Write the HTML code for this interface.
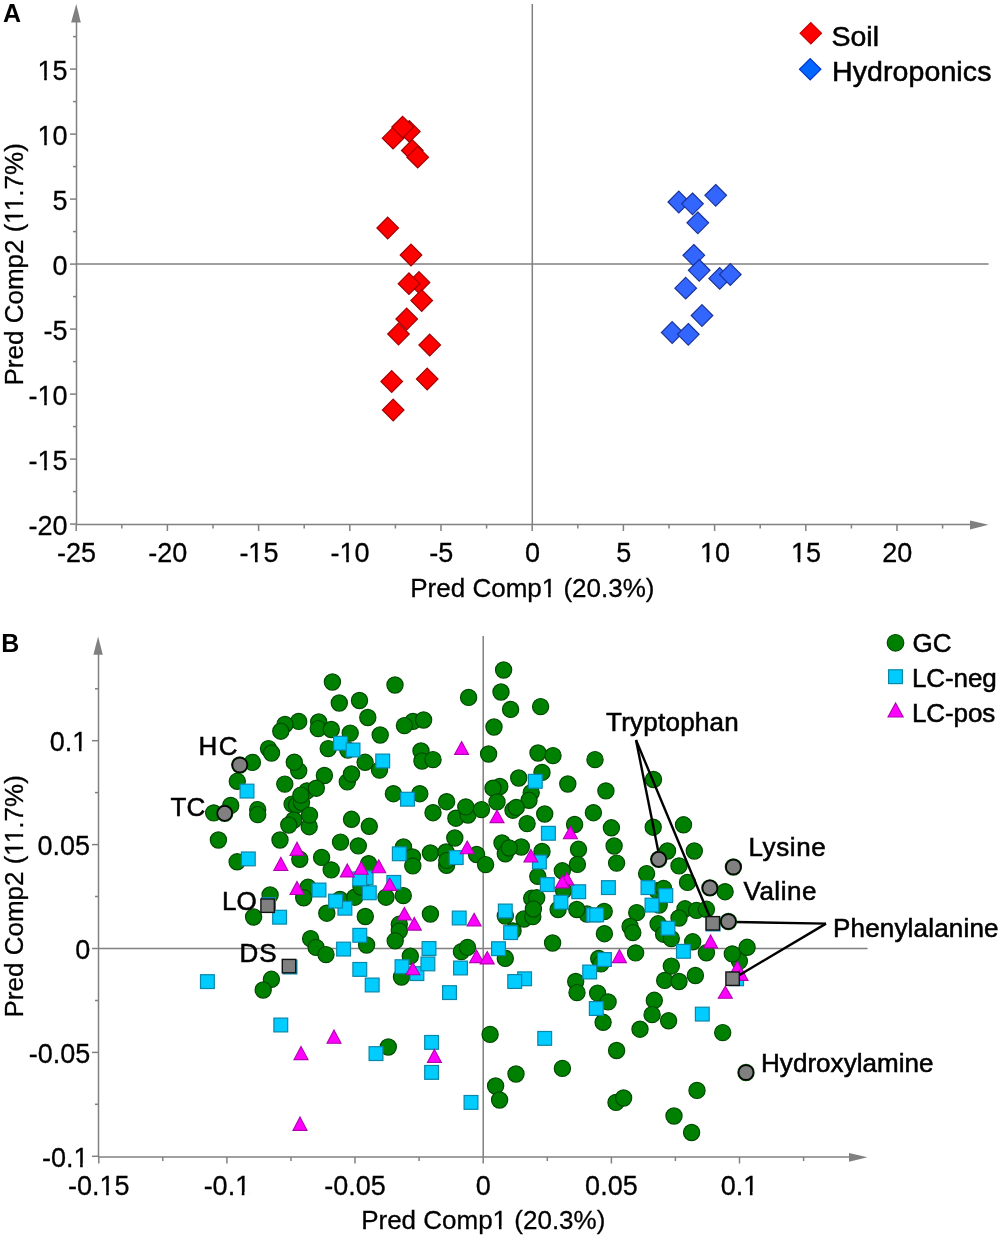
<!DOCTYPE html><html><head><meta charset="utf-8"><style>html,body{margin:0;padding:0;background:#fff;width:1000px;height:1238px;overflow:hidden}svg{display:block;will-change:transform}text{font-family:"Liberation Sans", sans-serif}</style></head><body>
<svg width="1000" height="1238" viewBox="0 0 1000 1238">
<rect width="1000" height="1238" fill="#fff"/>
<g stroke="#808080" stroke-width="1.5" fill="none">
<line x1="76.5" y1="22" x2="76.5" y2="524.5"/>
<line x1="76.5" y1="524.5" x2="971" y2="524.5"/>
<line x1="76.5" y1="264.1" x2="988.5" y2="264.1"/>
<line x1="532.3" y1="4" x2="532.3" y2="524.5"/>
<line x1="70" y1="524.1" x2="76.5" y2="524.1"/>
<line x1="70" y1="459.1" x2="76.5" y2="459.1"/>
<line x1="70" y1="394.1" x2="76.5" y2="394.1"/>
<line x1="70" y1="329.1" x2="76.5" y2="329.1"/>
<line x1="70" y1="264.1" x2="76.5" y2="264.1"/>
<line x1="70" y1="199.1" x2="76.5" y2="199.1"/>
<line x1="70" y1="134.1" x2="76.5" y2="134.1"/>
<line x1="70" y1="69.1" x2="76.5" y2="69.1"/>
<line x1="73" y1="491.6" x2="76.5" y2="491.6"/>
<line x1="73" y1="426.6" x2="76.5" y2="426.6"/>
<line x1="73" y1="361.6" x2="76.5" y2="361.6"/>
<line x1="73" y1="296.6" x2="76.5" y2="296.6"/>
<line x1="73" y1="231.6" x2="76.5" y2="231.6"/>
<line x1="73" y1="166.6" x2="76.5" y2="166.6"/>
<line x1="73" y1="101.6" x2="76.5" y2="101.6"/>
<line x1="73" y1="36.6" x2="76.5" y2="36.6"/>
<line x1="76.2" y1="524.5" x2="76.2" y2="531"/>
<line x1="167.4" y1="524.5" x2="167.4" y2="531"/>
<line x1="258.6" y1="524.5" x2="258.6" y2="531"/>
<line x1="349.8" y1="524.5" x2="349.8" y2="531"/>
<line x1="441" y1="524.5" x2="441" y2="531"/>
<line x1="532.2" y1="524.5" x2="532.2" y2="531"/>
<line x1="623.4" y1="524.5" x2="623.4" y2="531"/>
<line x1="714.6" y1="524.5" x2="714.6" y2="531"/>
<line x1="805.8" y1="524.5" x2="805.8" y2="531"/>
<line x1="897" y1="524.5" x2="897" y2="531"/>
<line x1="121.8" y1="524.5" x2="121.8" y2="528.5"/>
<line x1="213" y1="524.5" x2="213" y2="528.5"/>
<line x1="304.2" y1="524.5" x2="304.2" y2="528.5"/>
<line x1="395.4" y1="524.5" x2="395.4" y2="528.5"/>
<line x1="486.6" y1="524.5" x2="486.6" y2="528.5"/>
<line x1="577.8" y1="524.5" x2="577.8" y2="528.5"/>
<line x1="669" y1="524.5" x2="669" y2="528.5"/>
<line x1="760.2" y1="524.5" x2="760.2" y2="528.5"/>
<line x1="851.4" y1="524.5" x2="851.4" y2="528.5"/>
<line x1="942.6" y1="524.5" x2="942.6" y2="528.5"/>
</g>
<g fill="#808080" stroke="none">
<polygon points="76.3,4 71.1,22.4 80.8,22.4"/>
<polygon points="988.5,524.8 970,520.6 970,529.4"/>
</g>
<g font-size="27" fill="#000" stroke="#000" stroke-width="0.3" text-anchor="end">
<text x="67.6" y="534.6">-20</text>
<text x="67.6" y="469.6">-15</text>
<text x="67.6" y="404.6">-10</text>
<text x="67.6" y="339.6">-5</text>
<text x="67.6" y="274.6">0</text>
<text x="67.6" y="209.6">5</text>
<text x="67.6" y="144.6">10</text>
<text x="67.6" y="79.6">15</text>
</g>
<g font-size="27" fill="#000" stroke="#000" stroke-width="0.3" text-anchor="middle">
<text x="76.5" y="562">-25</text>
<text x="167.7" y="562">-20</text>
<text x="258.9" y="562">-15</text>
<text x="350.1" y="562">-10</text>
<text x="441.3" y="562">-5</text>
<text x="532.5" y="562">0</text>
<text x="623.7" y="562">5</text>
<text x="714.9" y="562">10</text>
<text x="806.1" y="562">15</text>
<text x="897.3" y="562">20</text>
</g>
<text x="532.4" y="596.5" font-size="26" stroke="#000" stroke-width="0.3" text-anchor="middle">Pred Comp1 (20.3%)</text>
<text transform="translate(22.6,264.35) rotate(-90)" font-size="26" stroke="#000" stroke-width="0.3" text-anchor="middle">Pred Comp2 (11.7%)</text>
<text x="3" y="21.9" font-size="25" font-weight="bold">A</text>
<polygon points="393.1,127.4 403.9,138.2 393.1,149 382.3,138.2" fill="#ff0000" stroke="#a00000" stroke-width="1.2"/>
<polygon points="409.3,120.6 420.1,131.4 409.3,142.2 398.5,131.4" fill="#ff0000" stroke="#a00000" stroke-width="1.2"/>
<polygon points="402.6,116.3 413.4,127.1 402.6,137.9 391.8,127.1" fill="#ff0000" stroke="#a00000" stroke-width="1.2"/>
<polygon points="412.3,139.7 423.1,150.5 412.3,161.3 401.5,150.5" fill="#ff0000" stroke="#a00000" stroke-width="1.2"/>
<polygon points="417.7,146.4 428.5,157.2 417.7,168 406.9,157.2" fill="#ff0000" stroke="#a00000" stroke-width="1.2"/>
<polygon points="387.7,217.2 398.5,228 387.7,238.8 376.9,228" fill="#ff0000" stroke="#a00000" stroke-width="1.2"/>
<polygon points="411,244.2 421.8,255 411,265.8 400.2,255" fill="#ff0000" stroke="#a00000" stroke-width="1.2"/>
<polygon points="419,271.7 429.8,282.5 419,293.3 408.2,282.5" fill="#ff0000" stroke="#a00000" stroke-width="1.2"/>
<polygon points="409,272.9 419.8,283.7 409,294.5 398.2,283.7" fill="#ff0000" stroke="#a00000" stroke-width="1.2"/>
<polygon points="421.7,289.7 432.5,300.5 421.7,311.3 410.9,300.5" fill="#ff0000" stroke="#a00000" stroke-width="1.2"/>
<polygon points="406.7,308.2 417.5,319 406.7,329.8 395.9,319" fill="#ff0000" stroke="#a00000" stroke-width="1.2"/>
<polygon points="398.5,323.2 409.3,334 398.5,344.8 387.7,334" fill="#ff0000" stroke="#a00000" stroke-width="1.2"/>
<polygon points="429.7,334.2 440.5,345 429.7,355.8 418.9,345" fill="#ff0000" stroke="#a00000" stroke-width="1.2"/>
<polygon points="391.7,370.7 402.5,381.5 391.7,392.3 380.9,381.5" fill="#ff0000" stroke="#a00000" stroke-width="1.2"/>
<polygon points="427.2,368.2 438,379 427.2,389.8 416.4,379" fill="#ff0000" stroke="#a00000" stroke-width="1.2"/>
<polygon points="393.2,399.2 404,410 393.2,420.8 382.4,410" fill="#ff0000" stroke="#a00000" stroke-width="1.2"/>
<polygon points="678.8,191.2 689.6,202 678.8,212.8 668,202" fill="#3366ff" stroke="#1a3399" stroke-width="1.2"/>
<polygon points="692.5,193 703.3,203.8 692.5,214.6 681.7,203.8" fill="#3366ff" stroke="#1a3399" stroke-width="1.2"/>
<polygon points="715.7,184.5 726.5,195.3 715.7,206.1 704.9,195.3" fill="#3366ff" stroke="#1a3399" stroke-width="1.2"/>
<polygon points="697.8,212 708.6,222.8 697.8,233.6 687,222.8" fill="#3366ff" stroke="#1a3399" stroke-width="1.2"/>
<polygon points="693.8,244.5 704.6,255.3 693.8,266.1 683,255.3" fill="#3366ff" stroke="#1a3399" stroke-width="1.2"/>
<polygon points="699.2,259.5 710,270.3 699.2,281.1 688.4,270.3" fill="#3366ff" stroke="#1a3399" stroke-width="1.2"/>
<polygon points="719.7,267.6 730.5,278.4 719.7,289.2 708.9,278.4" fill="#3366ff" stroke="#1a3399" stroke-width="1.2"/>
<polygon points="730.3,263.7 741.1,274.5 730.3,285.3 719.5,274.5" fill="#3366ff" stroke="#1a3399" stroke-width="1.2"/>
<polygon points="685.7,277.4 696.5,288.2 685.7,299 674.9,288.2" fill="#3366ff" stroke="#1a3399" stroke-width="1.2"/>
<polygon points="702,304.7 712.8,315.5 702,326.3 691.2,315.5" fill="#3366ff" stroke="#1a3399" stroke-width="1.2"/>
<polygon points="672.2,321.7 683,332.5 672.2,343.3 661.4,332.5" fill="#3366ff" stroke="#1a3399" stroke-width="1.2"/>
<polygon points="688.3,323.5 699.1,334.3 688.3,345.1 677.5,334.3" fill="#3366ff" stroke="#1a3399" stroke-width="1.2"/>
<polygon points="810.8,22.6 821.5,33.3 810.8,44 800.1,33.3" fill="#ff0000" stroke="#c80000" stroke-width="1.2"/>
<polygon points="810.2,58.6 820.9,69.3 810.2,80 799.5,69.3" fill="#0066ff" stroke="#0033cc" stroke-width="1.2"/>
<g stroke="#808080" stroke-width="1.5" fill="none">
<line x1="98.5" y1="654" x2="98.5" y2="1157"/>
<line x1="98.5" y1="1157" x2="850" y2="1157"/>
<line x1="98.5" y1="948.5" x2="867.5" y2="948.5"/>
<line x1="483.2" y1="636" x2="483.2" y2="1157"/>
<line x1="92" y1="1156.3" x2="98.5" y2="1156.3"/>
<line x1="92" y1="1052.4" x2="98.5" y2="1052.4"/>
<line x1="92" y1="948.5" x2="98.5" y2="948.5"/>
<line x1="92" y1="844.6" x2="98.5" y2="844.6"/>
<line x1="92" y1="740.7" x2="98.5" y2="740.7"/>
<line x1="95" y1="1104.3" x2="98.5" y2="1104.3"/>
<line x1="95" y1="1000.5" x2="98.5" y2="1000.5"/>
<line x1="95" y1="896.5" x2="98.5" y2="896.5"/>
<line x1="95" y1="792.6" x2="98.5" y2="792.6"/>
<line x1="95" y1="688.8" x2="98.5" y2="688.8"/>
<line x1="98.8" y1="1157" x2="98.8" y2="1163.5"/>
<line x1="226.9" y1="1157" x2="226.9" y2="1163.5"/>
<line x1="355" y1="1157" x2="355" y2="1163.5"/>
<line x1="483.2" y1="1157" x2="483.2" y2="1163.5"/>
<line x1="611.4" y1="1157" x2="611.4" y2="1163.5"/>
<line x1="739.5" y1="1157" x2="739.5" y2="1163.5"/>
<line x1="162.8" y1="1157" x2="162.8" y2="1161"/>
<line x1="291" y1="1157" x2="291" y2="1161"/>
<line x1="419.1" y1="1157" x2="419.1" y2="1161"/>
<line x1="547.3" y1="1157" x2="547.3" y2="1161"/>
<line x1="675.4" y1="1157" x2="675.4" y2="1161"/>
<line x1="803.6" y1="1157" x2="803.6" y2="1161"/>
</g>
<g fill="#808080" stroke="none">
<polygon points="98.1,636.4 93.4,654.8 102.8,654.8"/>
<polygon points="867.5,1157.3 849,1152.9 849,1161.7"/>
</g>
<g font-size="27" fill="#000" stroke="#000" stroke-width="0.3" text-anchor="end">
<text x="87.3" y="751.1">0.1</text>
<text x="90" y="855">0.05</text>
<text x="90.2" y="958.9">0</text>
<text x="90.2" y="1062.8">-0.05</text>
<text x="88.5" y="1166.6">-0.1</text>
</g>
<g font-size="27" fill="#000" stroke="#000" stroke-width="0.3" text-anchor="middle">
<text x="98.8" y="1195">-0.15</text>
<text x="226.9" y="1195">-0.1</text>
<text x="355" y="1195">-0.05</text>
<text x="483.2" y="1195">0</text>
<text x="611.4" y="1195">0.05</text>
<text x="739.5" y="1195">0.1</text>
</g>
<text x="483.25" y="1229" font-size="26" stroke="#000" stroke-width="0.3" text-anchor="middle">Pred Comp1 (20.3%)</text>
<text transform="translate(22.6,896.35) rotate(-90)" font-size="26" stroke="#000" stroke-width="0.3" text-anchor="middle">Pred Comp2 (11.7%)</text>
<text x="1.3" y="651.9" font-size="25" font-weight="bold">B</text>
<circle cx="332.4" cy="682" r="8.1" fill="#008000" stroke="#004a00" stroke-width="1.2"/>
<circle cx="339.3" cy="703" r="8.1" fill="#008000" stroke="#004a00" stroke-width="1.2"/>
<circle cx="359.5" cy="700.5" r="8.1" fill="#008000" stroke="#004a00" stroke-width="1.2"/>
<circle cx="367.8" cy="717.5" r="8.1" fill="#008000" stroke="#004a00" stroke-width="1.2"/>
<circle cx="298.7" cy="721.4" r="8.1" fill="#008000" stroke="#004a00" stroke-width="1.2"/>
<circle cx="285" cy="724.5" r="8.1" fill="#008000" stroke="#004a00" stroke-width="1.2"/>
<circle cx="280.8" cy="731.2" r="8.1" fill="#008000" stroke="#004a00" stroke-width="1.2"/>
<circle cx="318.7" cy="722" r="8.1" fill="#008000" stroke="#004a00" stroke-width="1.2"/>
<circle cx="318.2" cy="728.6" r="8.1" fill="#008000" stroke="#004a00" stroke-width="1.2"/>
<circle cx="331.3" cy="729.5" r="8.1" fill="#008000" stroke="#004a00" stroke-width="1.2"/>
<circle cx="350.2" cy="733.1" r="8.1" fill="#008000" stroke="#004a00" stroke-width="1.2"/>
<circle cx="380.2" cy="735" r="8.1" fill="#008000" stroke="#004a00" stroke-width="1.2"/>
<circle cx="268.5" cy="748.6" r="8.1" fill="#008000" stroke="#004a00" stroke-width="1.2"/>
<circle cx="271.5" cy="753" r="8.1" fill="#008000" stroke="#004a00" stroke-width="1.2"/>
<circle cx="252.4" cy="762.4" r="8.1" fill="#008000" stroke="#004a00" stroke-width="1.2"/>
<circle cx="298.7" cy="770.8" r="8.1" fill="#008000" stroke="#004a00" stroke-width="1.2"/>
<circle cx="294.3" cy="762.2" r="8.1" fill="#008000" stroke="#004a00" stroke-width="1.2"/>
<circle cx="328.2" cy="748.6" r="8.1" fill="#008000" stroke="#004a00" stroke-width="1.2"/>
<circle cx="347.8" cy="750" r="8.1" fill="#008000" stroke="#004a00" stroke-width="1.2"/>
<circle cx="365.1" cy="762.3" r="8.1" fill="#008000" stroke="#004a00" stroke-width="1.2"/>
<circle cx="379.5" cy="770.1" r="8.1" fill="#008000" stroke="#004a00" stroke-width="1.2"/>
<circle cx="324.4" cy="775.5" r="8.1" fill="#008000" stroke="#004a00" stroke-width="1.2"/>
<circle cx="347.3" cy="781.9" r="8.1" fill="#008000" stroke="#004a00" stroke-width="1.2"/>
<circle cx="351.5" cy="774" r="8.1" fill="#008000" stroke="#004a00" stroke-width="1.2"/>
<circle cx="395" cy="685" r="8.1" fill="#008000" stroke="#004a00" stroke-width="1.2"/>
<circle cx="468.6" cy="697.4" r="8.1" fill="#008000" stroke="#004a00" stroke-width="1.2"/>
<circle cx="503.6" cy="670" r="8.1" fill="#008000" stroke="#004a00" stroke-width="1.2"/>
<circle cx="501" cy="692" r="8.1" fill="#008000" stroke="#004a00" stroke-width="1.2"/>
<circle cx="510.6" cy="709.4" r="8.1" fill="#008000" stroke="#004a00" stroke-width="1.2"/>
<circle cx="540.6" cy="706.6" r="8.1" fill="#008000" stroke="#004a00" stroke-width="1.2"/>
<circle cx="494" cy="727" r="8.1" fill="#008000" stroke="#004a00" stroke-width="1.2"/>
<circle cx="413" cy="721.4" r="8.1" fill="#008000" stroke="#004a00" stroke-width="1.2"/>
<circle cx="423.6" cy="720" r="8.1" fill="#008000" stroke="#004a00" stroke-width="1.2"/>
<circle cx="404.4" cy="725.6" r="8.1" fill="#008000" stroke="#004a00" stroke-width="1.2"/>
<circle cx="421" cy="751" r="8.1" fill="#008000" stroke="#004a00" stroke-width="1.2"/>
<circle cx="422" cy="761" r="8.1" fill="#008000" stroke="#004a00" stroke-width="1.2"/>
<circle cx="433" cy="759.6" r="8.1" fill="#008000" stroke="#004a00" stroke-width="1.2"/>
<circle cx="488.6" cy="754" r="8.1" fill="#008000" stroke="#004a00" stroke-width="1.2"/>
<circle cx="538" cy="753" r="8.1" fill="#008000" stroke="#004a00" stroke-width="1.2"/>
<circle cx="553" cy="755.6" r="8.1" fill="#008000" stroke="#004a00" stroke-width="1.2"/>
<circle cx="542" cy="772.4" r="8.1" fill="#008000" stroke="#004a00" stroke-width="1.2"/>
<circle cx="518.7" cy="778" r="8.1" fill="#008000" stroke="#004a00" stroke-width="1.2"/>
<circle cx="595" cy="759.6" r="8.1" fill="#008000" stroke="#004a00" stroke-width="1.2"/>
<circle cx="237.3" cy="781.3" r="8.1" fill="#008000" stroke="#004a00" stroke-width="1.2"/>
<circle cx="284.8" cy="784.1" r="8.1" fill="#008000" stroke="#004a00" stroke-width="1.2"/>
<circle cx="230.7" cy="805.4" r="8.1" fill="#008000" stroke="#004a00" stroke-width="1.2"/>
<circle cx="213.7" cy="812.9" r="8.1" fill="#008000" stroke="#004a00" stroke-width="1.2"/>
<circle cx="257.7" cy="809.6" r="8.1" fill="#008000" stroke="#004a00" stroke-width="1.2"/>
<circle cx="257.7" cy="814.6" r="8.1" fill="#008000" stroke="#004a00" stroke-width="1.2"/>
<circle cx="218.4" cy="840" r="8.1" fill="#008000" stroke="#004a00" stroke-width="1.2"/>
<circle cx="280" cy="840" r="8.1" fill="#008000" stroke="#004a00" stroke-width="1.2"/>
<circle cx="307" cy="790.9" r="8.1" fill="#008000" stroke="#004a00" stroke-width="1.2"/>
<circle cx="316.3" cy="788.2" r="8.1" fill="#008000" stroke="#004a00" stroke-width="1.2"/>
<circle cx="292.1" cy="804.1" r="8.1" fill="#008000" stroke="#004a00" stroke-width="1.2"/>
<circle cx="296.5" cy="805.2" r="8.1" fill="#008000" stroke="#004a00" stroke-width="1.2"/>
<circle cx="301.5" cy="802.5" r="8.1" fill="#008000" stroke="#004a00" stroke-width="1.2"/>
<circle cx="300.9" cy="795.1" r="8.1" fill="#008000" stroke="#004a00" stroke-width="1.2"/>
<circle cx="309.2" cy="826.7" r="8.1" fill="#008000" stroke="#004a00" stroke-width="1.2"/>
<circle cx="309.5" cy="815.1" r="8.1" fill="#008000" stroke="#004a00" stroke-width="1.2"/>
<circle cx="293.8" cy="820" r="8.1" fill="#008000" stroke="#004a00" stroke-width="1.2"/>
<circle cx="288.8" cy="825" r="8.1" fill="#008000" stroke="#004a00" stroke-width="1.2"/>
<circle cx="351.5" cy="819.3" r="8.1" fill="#008000" stroke="#004a00" stroke-width="1.2"/>
<circle cx="369.3" cy="826.3" r="8.1" fill="#008000" stroke="#004a00" stroke-width="1.2"/>
<circle cx="340.5" cy="842.1" r="8.1" fill="#008000" stroke="#004a00" stroke-width="1.2"/>
<circle cx="358.3" cy="845.9" r="8.1" fill="#008000" stroke="#004a00" stroke-width="1.2"/>
<circle cx="393.4" cy="793.7" r="8.1" fill="#008000" stroke="#004a00" stroke-width="1.2"/>
<circle cx="419.8" cy="793.7" r="8.1" fill="#008000" stroke="#004a00" stroke-width="1.2"/>
<circle cx="446.6" cy="801.7" r="8.1" fill="#008000" stroke="#004a00" stroke-width="1.2"/>
<circle cx="433" cy="812.7" r="8.1" fill="#008000" stroke="#004a00" stroke-width="1.2"/>
<circle cx="455.9" cy="818.2" r="8.1" fill="#008000" stroke="#004a00" stroke-width="1.2"/>
<circle cx="468" cy="815" r="8.1" fill="#008000" stroke="#004a00" stroke-width="1.2"/>
<circle cx="465.8" cy="806.9" r="8.1" fill="#008000" stroke="#004a00" stroke-width="1.2"/>
<circle cx="481.5" cy="809.6" r="8.1" fill="#008000" stroke="#004a00" stroke-width="1.2"/>
<circle cx="454.8" cy="838" r="8.1" fill="#008000" stroke="#004a00" stroke-width="1.2"/>
<circle cx="499.8" cy="786.5" r="8.1" fill="#008000" stroke="#004a00" stroke-width="1.2"/>
<circle cx="493" cy="788.2" r="8.1" fill="#008000" stroke="#004a00" stroke-width="1.2"/>
<circle cx="497" cy="801.9" r="8.1" fill="#008000" stroke="#004a00" stroke-width="1.2"/>
<circle cx="531.2" cy="792.6" r="8.1" fill="#008000" stroke="#004a00" stroke-width="1.2"/>
<circle cx="529" cy="800.3" r="8.1" fill="#008000" stroke="#004a00" stroke-width="1.2"/>
<circle cx="513" cy="810.2" r="8.1" fill="#008000" stroke="#004a00" stroke-width="1.2"/>
<circle cx="516.3" cy="807.4" r="8.1" fill="#008000" stroke="#004a00" stroke-width="1.2"/>
<circle cx="544.7" cy="814" r="8.1" fill="#008000" stroke="#004a00" stroke-width="1.2"/>
<circle cx="527.1" cy="823.6" r="8.1" fill="#008000" stroke="#004a00" stroke-width="1.2"/>
<circle cx="567.8" cy="784" r="8.1" fill="#008000" stroke="#004a00" stroke-width="1.2"/>
<circle cx="574.6" cy="824.5" r="8.1" fill="#008000" stroke="#004a00" stroke-width="1.2"/>
<circle cx="605.9" cy="790.9" r="8.1" fill="#008000" stroke="#004a00" stroke-width="1.2"/>
<circle cx="593.4" cy="812.7" r="8.1" fill="#008000" stroke="#004a00" stroke-width="1.2"/>
<circle cx="611.4" cy="827.8" r="8.1" fill="#008000" stroke="#004a00" stroke-width="1.2"/>
<circle cx="653.5" cy="779.5" r="8.1" fill="#008000" stroke="#004a00" stroke-width="1.2"/>
<circle cx="653.2" cy="827.2" r="8.1" fill="#008000" stroke="#004a00" stroke-width="1.2"/>
<circle cx="683.5" cy="824.8" r="8.1" fill="#008000" stroke="#004a00" stroke-width="1.2"/>
<circle cx="237.1" cy="861.8" r="8.1" fill="#008000" stroke="#004a00" stroke-width="1.2"/>
<circle cx="270.1" cy="895" r="8.1" fill="#008000" stroke="#004a00" stroke-width="1.2"/>
<circle cx="299.8" cy="859.3" r="8.1" fill="#008000" stroke="#004a00" stroke-width="1.2"/>
<circle cx="321.6" cy="857.4" r="8.1" fill="#008000" stroke="#004a00" stroke-width="1.2"/>
<circle cx="331.2" cy="869.9" r="8.1" fill="#008000" stroke="#004a00" stroke-width="1.2"/>
<circle cx="368.6" cy="863.7" r="8.1" fill="#008000" stroke="#004a00" stroke-width="1.2"/>
<circle cx="308" cy="887.3" r="8.1" fill="#008000" stroke="#004a00" stroke-width="1.2"/>
<circle cx="303.7" cy="897.8" r="8.1" fill="#008000" stroke="#004a00" stroke-width="1.2"/>
<circle cx="340" cy="899.4" r="8.1" fill="#008000" stroke="#004a00" stroke-width="1.2"/>
<circle cx="354.8" cy="897.2" r="8.1" fill="#008000" stroke="#004a00" stroke-width="1.2"/>
<circle cx="361" cy="887" r="8.1" fill="#008000" stroke="#004a00" stroke-width="1.2"/>
<circle cx="386" cy="897.2" r="8.1" fill="#008000" stroke="#004a00" stroke-width="1.2"/>
<circle cx="326.8" cy="913.2" r="8.1" fill="#008000" stroke="#004a00" stroke-width="1.2"/>
<circle cx="365.3" cy="916.5" r="8.1" fill="#008000" stroke="#004a00" stroke-width="1.2"/>
<circle cx="403.5" cy="847" r="8.1" fill="#008000" stroke="#004a00" stroke-width="1.2"/>
<circle cx="412.5" cy="857" r="8.1" fill="#008000" stroke="#004a00" stroke-width="1.2"/>
<circle cx="412.8" cy="865.9" r="8.1" fill="#008000" stroke="#004a00" stroke-width="1.2"/>
<circle cx="430.4" cy="853" r="8.1" fill="#008000" stroke="#004a00" stroke-width="1.2"/>
<circle cx="446" cy="852" r="8.1" fill="#008000" stroke="#004a00" stroke-width="1.2"/>
<circle cx="446.6" cy="865.3" r="8.1" fill="#008000" stroke="#004a00" stroke-width="1.2"/>
<circle cx="446.8" cy="860.4" r="8.1" fill="#008000" stroke="#004a00" stroke-width="1.2"/>
<circle cx="476.6" cy="854.5" r="8.1" fill="#008000" stroke="#004a00" stroke-width="1.2"/>
<circle cx="485.6" cy="864.6" r="8.1" fill="#008000" stroke="#004a00" stroke-width="1.2"/>
<circle cx="403.3" cy="895.6" r="8.1" fill="#008000" stroke="#004a00" stroke-width="1.2"/>
<circle cx="430.4" cy="914" r="8.1" fill="#008000" stroke="#004a00" stroke-width="1.2"/>
<circle cx="502" cy="843" r="8.1" fill="#008000" stroke="#004a00" stroke-width="1.2"/>
<circle cx="505.3" cy="853.8" r="8.1" fill="#008000" stroke="#004a00" stroke-width="1.2"/>
<circle cx="521.3" cy="847" r="8.1" fill="#008000" stroke="#004a00" stroke-width="1.2"/>
<circle cx="509.2" cy="848" r="8.1" fill="#008000" stroke="#004a00" stroke-width="1.2"/>
<circle cx="542" cy="851.5" r="8.1" fill="#008000" stroke="#004a00" stroke-width="1.2"/>
<circle cx="537.8" cy="876.3" r="8.1" fill="#008000" stroke="#004a00" stroke-width="1.2"/>
<circle cx="578.5" cy="849.3" r="8.1" fill="#008000" stroke="#004a00" stroke-width="1.2"/>
<circle cx="577.4" cy="864.4" r="8.1" fill="#008000" stroke="#004a00" stroke-width="1.2"/>
<circle cx="562.3" cy="870.8" r="8.1" fill="#008000" stroke="#004a00" stroke-width="1.2"/>
<circle cx="563.6" cy="890.6" r="8.1" fill="#008000" stroke="#004a00" stroke-width="1.2"/>
<circle cx="558.1" cy="909.5" r="8.1" fill="#008000" stroke="#004a00" stroke-width="1.2"/>
<circle cx="586.9" cy="914" r="8.1" fill="#008000" stroke="#004a00" stroke-width="1.2"/>
<circle cx="576.8" cy="909.5" r="8.1" fill="#008000" stroke="#004a00" stroke-width="1.2"/>
<circle cx="531.7" cy="898.3" r="8.1" fill="#008000" stroke="#004a00" stroke-width="1.2"/>
<circle cx="536.7" cy="897.8" r="8.1" fill="#008000" stroke="#004a00" stroke-width="1.2"/>
<circle cx="505.3" cy="916" r="8.1" fill="#008000" stroke="#004a00" stroke-width="1.2"/>
<circle cx="524" cy="919" r="8.1" fill="#008000" stroke="#004a00" stroke-width="1.2"/>
<circle cx="532.8" cy="916.6" r="8.1" fill="#008000" stroke="#004a00" stroke-width="1.2"/>
<circle cx="533.4" cy="909" r="8.1" fill="#008000" stroke="#004a00" stroke-width="1.2"/>
<circle cx="614.1" cy="846" r="8.1" fill="#008000" stroke="#004a00" stroke-width="1.2"/>
<circle cx="616.6" cy="863.1" r="8.1" fill="#008000" stroke="#004a00" stroke-width="1.2"/>
<circle cx="667.5" cy="851" r="8.1" fill="#008000" stroke="#004a00" stroke-width="1.2"/>
<circle cx="679" cy="865.9" r="8.1" fill="#008000" stroke="#004a00" stroke-width="1.2"/>
<circle cx="694.3" cy="851" r="8.1" fill="#008000" stroke="#004a00" stroke-width="1.2"/>
<circle cx="646.6" cy="873.6" r="8.1" fill="#008000" stroke="#004a00" stroke-width="1.2"/>
<circle cx="687.5" cy="882.4" r="8.1" fill="#008000" stroke="#004a00" stroke-width="1.2"/>
<circle cx="657" cy="890.6" r="8.1" fill="#008000" stroke="#004a00" stroke-width="1.2"/>
<circle cx="663.6" cy="888.4" r="8.1" fill="#008000" stroke="#004a00" stroke-width="1.2"/>
<circle cx="659.2" cy="905" r="8.1" fill="#008000" stroke="#004a00" stroke-width="1.2"/>
<circle cx="636.7" cy="912.6" r="8.1" fill="#008000" stroke="#004a00" stroke-width="1.2"/>
<circle cx="604.2" cy="911.5" r="8.1" fill="#008000" stroke="#004a00" stroke-width="1.2"/>
<circle cx="685" cy="908.8" r="8.1" fill="#008000" stroke="#004a00" stroke-width="1.2"/>
<circle cx="679" cy="918" r="8.1" fill="#008000" stroke="#004a00" stroke-width="1.2"/>
<circle cx="696.5" cy="910.4" r="8.1" fill="#008000" stroke="#004a00" stroke-width="1.2"/>
<circle cx="706.4" cy="909.3" r="8.1" fill="#008000" stroke="#004a00" stroke-width="1.2"/>
<circle cx="725.1" cy="891.7" r="8.1" fill="#008000" stroke="#004a00" stroke-width="1.2"/>
<circle cx="253.6" cy="917" r="8.1" fill="#008000" stroke="#004a00" stroke-width="1.2"/>
<circle cx="271.4" cy="979.3" r="8.1" fill="#008000" stroke="#004a00" stroke-width="1.2"/>
<circle cx="263.2" cy="990" r="8.1" fill="#008000" stroke="#004a00" stroke-width="1.2"/>
<circle cx="310.6" cy="938.6" r="8.1" fill="#008000" stroke="#004a00" stroke-width="1.2"/>
<circle cx="316.1" cy="947.4" r="8.1" fill="#008000" stroke="#004a00" stroke-width="1.2"/>
<circle cx="326" cy="954.6" r="8.1" fill="#008000" stroke="#004a00" stroke-width="1.2"/>
<circle cx="366.6" cy="945" r="8.1" fill="#008000" stroke="#004a00" stroke-width="1.2"/>
<circle cx="399.3" cy="924.3" r="8.1" fill="#008000" stroke="#004a00" stroke-width="1.2"/>
<circle cx="399.3" cy="930.9" r="8.1" fill="#008000" stroke="#004a00" stroke-width="1.2"/>
<circle cx="395.2" cy="940.8" r="8.1" fill="#008000" stroke="#004a00" stroke-width="1.2"/>
<circle cx="410.3" cy="956.2" r="8.1" fill="#008000" stroke="#004a00" stroke-width="1.2"/>
<circle cx="401.5" cy="977" r="8.1" fill="#008000" stroke="#004a00" stroke-width="1.2"/>
<circle cx="461.4" cy="951.6" r="8.1" fill="#008000" stroke="#004a00" stroke-width="1.2"/>
<circle cx="467.5" cy="947.4" r="8.1" fill="#008000" stroke="#004a00" stroke-width="1.2"/>
<circle cx="513" cy="930.9" r="8.1" fill="#008000" stroke="#004a00" stroke-width="1.2"/>
<circle cx="505.3" cy="958.4" r="8.1" fill="#008000" stroke="#004a00" stroke-width="1.2"/>
<circle cx="552.6" cy="943" r="8.1" fill="#008000" stroke="#004a00" stroke-width="1.2"/>
<circle cx="575.7" cy="981.5" r="8.1" fill="#008000" stroke="#004a00" stroke-width="1.2"/>
<circle cx="577" cy="992.6" r="8.1" fill="#008000" stroke="#004a00" stroke-width="1.2"/>
<circle cx="604.4" cy="933.7" r="8.1" fill="#008000" stroke="#004a00" stroke-width="1.2"/>
<circle cx="630.1" cy="926.5" r="8.1" fill="#008000" stroke="#004a00" stroke-width="1.2"/>
<circle cx="632.8" cy="932.6" r="8.1" fill="#008000" stroke="#004a00" stroke-width="1.2"/>
<circle cx="658.1" cy="923.8" r="8.1" fill="#008000" stroke="#004a00" stroke-width="1.2"/>
<circle cx="663.6" cy="934.2" r="8.1" fill="#008000" stroke="#004a00" stroke-width="1.2"/>
<circle cx="671.3" cy="938.6" r="8.1" fill="#008000" stroke="#004a00" stroke-width="1.2"/>
<circle cx="692.7" cy="941.8" r="8.1" fill="#008000" stroke="#004a00" stroke-width="1.2"/>
<circle cx="635.6" cy="952.9" r="8.1" fill="#008000" stroke="#004a00" stroke-width="1.2"/>
<circle cx="598.7" cy="958.4" r="8.1" fill="#008000" stroke="#004a00" stroke-width="1.2"/>
<circle cx="600.9" cy="963.9" r="8.1" fill="#008000" stroke="#004a00" stroke-width="1.2"/>
<circle cx="671.3" cy="966.1" r="8.1" fill="#008000" stroke="#004a00" stroke-width="1.2"/>
<circle cx="664.7" cy="980.4" r="8.1" fill="#008000" stroke="#004a00" stroke-width="1.2"/>
<circle cx="679" cy="981.5" r="8.1" fill="#008000" stroke="#004a00" stroke-width="1.2"/>
<circle cx="706.4" cy="952.8" r="8.1" fill="#008000" stroke="#004a00" stroke-width="1.2"/>
<circle cx="739.4" cy="961.1" r="8.1" fill="#008000" stroke="#004a00" stroke-width="1.2"/>
<circle cx="732.3" cy="953.9" r="8.1" fill="#008000" stroke="#004a00" stroke-width="1.2"/>
<circle cx="747.1" cy="947.3" r="8.1" fill="#008000" stroke="#004a00" stroke-width="1.2"/>
<circle cx="695.4" cy="975.5" r="8.1" fill="#008000" stroke="#004a00" stroke-width="1.2"/>
<circle cx="597.6" cy="993.1" r="8.1" fill="#008000" stroke="#004a00" stroke-width="1.2"/>
<circle cx="608.1" cy="1001.9" r="8.1" fill="#008000" stroke="#004a00" stroke-width="1.2"/>
<circle cx="603.1" cy="1022.3" r="8.1" fill="#008000" stroke="#004a00" stroke-width="1.2"/>
<circle cx="654.3" cy="1000.3" r="8.1" fill="#008000" stroke="#004a00" stroke-width="1.2"/>
<circle cx="652.1" cy="1014.6" r="8.1" fill="#008000" stroke="#004a00" stroke-width="1.2"/>
<circle cx="668.6" cy="1020.8" r="8.1" fill="#008000" stroke="#004a00" stroke-width="1.2"/>
<circle cx="640" cy="1029.2" r="8.1" fill="#008000" stroke="#004a00" stroke-width="1.2"/>
<circle cx="722.7" cy="1032.6" r="8.1" fill="#008000" stroke="#004a00" stroke-width="1.2"/>
<circle cx="388.3" cy="1047" r="8.1" fill="#008000" stroke="#004a00" stroke-width="1.2"/>
<circle cx="490.1" cy="1034.4" r="8.1" fill="#008000" stroke="#004a00" stroke-width="1.2"/>
<circle cx="616.6" cy="1050.5" r="8.1" fill="#008000" stroke="#004a00" stroke-width="1.2"/>
<circle cx="562.4" cy="1068.4" r="8.1" fill="#008000" stroke="#004a00" stroke-width="1.2"/>
<circle cx="516" cy="1074" r="8.1" fill="#008000" stroke="#004a00" stroke-width="1.2"/>
<circle cx="495.6" cy="1086" r="8.1" fill="#008000" stroke="#004a00" stroke-width="1.2"/>
<circle cx="499.6" cy="1100" r="8.1" fill="#008000" stroke="#004a00" stroke-width="1.2"/>
<circle cx="616" cy="1102.4" r="8.1" fill="#008000" stroke="#004a00" stroke-width="1.2"/>
<circle cx="623.6" cy="1098" r="8.1" fill="#008000" stroke="#004a00" stroke-width="1.2"/>
<circle cx="697" cy="1090.4" r="8.1" fill="#008000" stroke="#004a00" stroke-width="1.2"/>
<circle cx="674" cy="1116" r="8.1" fill="#008000" stroke="#004a00" stroke-width="1.2"/>
<circle cx="691.6" cy="1132.5" r="8.1" fill="#008000" stroke="#004a00" stroke-width="1.2"/>
<rect x="333.6" y="736.3" width="13.8" height="13.8" fill="#00ccff" stroke="#0a87a8" stroke-width="1.2"/>
<rect x="346.1" y="743.1" width="13.8" height="13.8" fill="#00ccff" stroke="#0a87a8" stroke-width="1.2"/>
<rect x="375.8" y="754.1" width="13.8" height="13.8" fill="#00ccff" stroke="#0a87a8" stroke-width="1.2"/>
<rect x="240.1" y="784.2" width="13.8" height="13.8" fill="#00ccff" stroke="#0a87a8" stroke-width="1.2"/>
<rect x="400.6" y="792.3" width="13.8" height="13.8" fill="#00ccff" stroke="#0a87a8" stroke-width="1.2"/>
<rect x="528.4" y="774.4" width="13.8" height="13.8" fill="#00ccff" stroke="#0a87a8" stroke-width="1.2"/>
<rect x="541.5" y="826.4" width="13.8" height="13.8" fill="#00ccff" stroke="#0a87a8" stroke-width="1.2"/>
<rect x="241.4" y="852" width="13.8" height="13.8" fill="#00ccff" stroke="#0a87a8" stroke-width="1.2"/>
<rect x="261.6" y="897.6" width="13.8" height="13.8" fill="#00ccff" stroke="#0a87a8" stroke-width="1.2"/>
<rect x="272.7" y="910.3" width="13.8" height="13.8" fill="#00ccff" stroke="#0a87a8" stroke-width="1.2"/>
<rect x="312.1" y="883.1" width="13.8" height="13.8" fill="#00ccff" stroke="#0a87a8" stroke-width="1.2"/>
<rect x="359.2" y="870.9" width="13.8" height="13.8" fill="#00ccff" stroke="#0a87a8" stroke-width="1.2"/>
<rect x="352.8" y="872" width="13.8" height="13.8" fill="#00ccff" stroke="#0a87a8" stroke-width="1.2"/>
<rect x="362.4" y="885.9" width="13.8" height="13.8" fill="#00ccff" stroke="#0a87a8" stroke-width="1.2"/>
<rect x="338" y="901.3" width="13.8" height="13.8" fill="#00ccff" stroke="#0a87a8" stroke-width="1.2"/>
<rect x="328.7" y="894.2" width="13.8" height="13.8" fill="#00ccff" stroke="#0a87a8" stroke-width="1.2"/>
<rect x="392.4" y="846.9" width="13.8" height="13.8" fill="#00ccff" stroke="#0a87a8" stroke-width="1.2"/>
<rect x="449.3" y="850.7" width="13.8" height="13.8" fill="#00ccff" stroke="#0a87a8" stroke-width="1.2"/>
<rect x="386.9" y="875.5" width="13.8" height="13.8" fill="#00ccff" stroke="#0a87a8" stroke-width="1.2"/>
<rect x="452.3" y="911.1" width="13.8" height="13.8" fill="#00ccff" stroke="#0a87a8" stroke-width="1.2"/>
<rect x="532.5" y="855.1" width="13.8" height="13.8" fill="#00ccff" stroke="#0a87a8" stroke-width="1.2"/>
<rect x="540.4" y="877.7" width="13.8" height="13.8" fill="#00ccff" stroke="#0a87a8" stroke-width="1.2"/>
<rect x="571.8" y="884.8" width="13.8" height="13.8" fill="#00ccff" stroke="#0a87a8" stroke-width="1.2"/>
<rect x="554" y="895.3" width="13.8" height="13.8" fill="#00ccff" stroke="#0a87a8" stroke-width="1.2"/>
<rect x="498.4" y="904.1" width="13.8" height="13.8" fill="#00ccff" stroke="#0a87a8" stroke-width="1.2"/>
<rect x="586.7" y="908" width="13.8" height="13.8" fill="#00ccff" stroke="#0a87a8" stroke-width="1.2"/>
<rect x="589.7" y="908" width="13.8" height="13.8" fill="#00ccff" stroke="#0a87a8" stroke-width="1.2"/>
<rect x="601.5" y="880.7" width="13.8" height="13.8" fill="#00ccff" stroke="#0a87a8" stroke-width="1.2"/>
<rect x="641.1" y="880.7" width="13.8" height="13.8" fill="#00ccff" stroke="#0a87a8" stroke-width="1.2"/>
<rect x="658.9" y="888.7" width="13.8" height="13.8" fill="#00ccff" stroke="#0a87a8" stroke-width="1.2"/>
<rect x="645.1" y="898.2" width="13.8" height="13.8" fill="#00ccff" stroke="#0a87a8" stroke-width="1.2"/>
<rect x="283.1" y="960.1" width="13.8" height="13.8" fill="#00ccff" stroke="#0a87a8" stroke-width="1.2"/>
<rect x="200.5" y="974.7" width="13.8" height="13.8" fill="#00ccff" stroke="#0a87a8" stroke-width="1.2"/>
<rect x="336.7" y="942.2" width="13.8" height="13.8" fill="#00ccff" stroke="#0a87a8" stroke-width="1.2"/>
<rect x="352.9" y="928.4" width="13.8" height="13.8" fill="#00ccff" stroke="#0a87a8" stroke-width="1.2"/>
<rect x="352.9" y="962.5" width="13.8" height="13.8" fill="#00ccff" stroke="#0a87a8" stroke-width="1.2"/>
<rect x="365.3" y="978.1" width="13.8" height="13.8" fill="#00ccff" stroke="#0a87a8" stroke-width="1.2"/>
<rect x="422.1" y="941.6" width="13.8" height="13.8" fill="#00ccff" stroke="#0a87a8" stroke-width="1.2"/>
<rect x="395.1" y="959.8" width="13.8" height="13.8" fill="#00ccff" stroke="#0a87a8" stroke-width="1.2"/>
<rect x="410" y="966.7" width="13.8" height="13.8" fill="#00ccff" stroke="#0a87a8" stroke-width="1.2"/>
<rect x="421" y="957" width="13.8" height="13.8" fill="#00ccff" stroke="#0a87a8" stroke-width="1.2"/>
<rect x="453.6" y="961.1" width="13.8" height="13.8" fill="#00ccff" stroke="#0a87a8" stroke-width="1.2"/>
<rect x="442.6" y="985.7" width="13.8" height="13.8" fill="#00ccff" stroke="#0a87a8" stroke-width="1.2"/>
<rect x="503.7" y="925.7" width="13.8" height="13.8" fill="#00ccff" stroke="#0a87a8" stroke-width="1.2"/>
<rect x="491.6" y="941.8" width="13.8" height="13.8" fill="#00ccff" stroke="#0a87a8" stroke-width="1.2"/>
<rect x="517.7" y="971.9" width="13.8" height="13.8" fill="#00ccff" stroke="#0a87a8" stroke-width="1.2"/>
<rect x="507.8" y="974.6" width="13.8" height="13.8" fill="#00ccff" stroke="#0a87a8" stroke-width="1.2"/>
<rect x="582.8" y="965.1" width="13.8" height="13.8" fill="#00ccff" stroke="#0a87a8" stroke-width="1.2"/>
<rect x="661.1" y="921.3" width="13.8" height="13.8" fill="#00ccff" stroke="#0a87a8" stroke-width="1.2"/>
<rect x="676.5" y="944.4" width="13.8" height="13.8" fill="#00ccff" stroke="#0a87a8" stroke-width="1.2"/>
<rect x="597.5" y="952.6" width="13.8" height="13.8" fill="#00ccff" stroke="#0a87a8" stroke-width="1.2"/>
<rect x="706.1" y="917.1" width="13.8" height="13.8" fill="#00ccff" stroke="#0a87a8" stroke-width="1.2"/>
<rect x="729.7" y="971.9" width="13.8" height="13.8" fill="#00ccff" stroke="#0a87a8" stroke-width="1.2"/>
<rect x="695.4" y="1007.2" width="13.8" height="13.8" fill="#00ccff" stroke="#0a87a8" stroke-width="1.2"/>
<rect x="589.4" y="1001.6" width="13.8" height="13.8" fill="#00ccff" stroke="#0a87a8" stroke-width="1.2"/>
<rect x="537.8" y="1031.5" width="13.8" height="13.8" fill="#00ccff" stroke="#0a87a8" stroke-width="1.2"/>
<rect x="273.9" y="1018.1" width="13.8" height="13.8" fill="#00ccff" stroke="#0a87a8" stroke-width="1.2"/>
<rect x="369.1" y="1046.7" width="13.8" height="13.8" fill="#00ccff" stroke="#0a87a8" stroke-width="1.2"/>
<rect x="424.7" y="1035.5" width="13.8" height="13.8" fill="#00ccff" stroke="#0a87a8" stroke-width="1.2"/>
<rect x="424.7" y="1065.5" width="13.8" height="13.8" fill="#00ccff" stroke="#0a87a8" stroke-width="1.2"/>
<rect x="464.1" y="1095.5" width="13.8" height="13.8" fill="#00ccff" stroke="#0a87a8" stroke-width="1.2"/>
<polygon points="461.6,741.6 468.6,754.4 454.6,754.4" fill="#ff00ff" stroke="#b000b0" stroke-width="1.1"/>
<polygon points="297,842.2 304,855.4 290,855.4" fill="#ff00ff" stroke="#b000b0" stroke-width="1.1"/>
<polygon points="280.8,857.3 287.8,870.5 273.8,870.5" fill="#ff00ff" stroke="#b000b0" stroke-width="1.1"/>
<polygon points="297,881.5 304,894.5 290,894.5" fill="#ff00ff" stroke="#b000b0" stroke-width="1.1"/>
<polygon points="347.3,864 354.3,876.9 340.3,876.9" fill="#ff00ff" stroke="#b000b0" stroke-width="1.1"/>
<polygon points="361.2,861.5 368.2,874.3 354.2,874.3" fill="#ff00ff" stroke="#b000b0" stroke-width="1.1"/>
<polygon points="378.7,859.8 385.7,872.7 371.7,872.7" fill="#ff00ff" stroke="#b000b0" stroke-width="1.1"/>
<polygon points="389.7,878 396.7,890.4 382.7,890.4" fill="#ff00ff" stroke="#b000b0" stroke-width="1.1"/>
<polygon points="467.2,841.1 474.2,853.8 460.2,853.8" fill="#ff00ff" stroke="#b000b0" stroke-width="1.1"/>
<polygon points="497,810.2 504,822.6 490,822.6" fill="#ff00ff" stroke="#b000b0" stroke-width="1.1"/>
<polygon points="570.4,826.1 577.4,838.8 563.4,838.8" fill="#ff00ff" stroke="#b000b0" stroke-width="1.1"/>
<polygon points="530.9,849.4 537.9,862 523.9,862" fill="#ff00ff" stroke="#b000b0" stroke-width="1.1"/>
<polygon points="566.9,872.5 573.9,884.9 559.9,884.9" fill="#ff00ff" stroke="#b000b0" stroke-width="1.1"/>
<polygon points="562.3,875.4 569.3,887.9 555.3,887.9" fill="#ff00ff" stroke="#b000b0" stroke-width="1.1"/>
<polygon points="404.4,907.5 411.4,920 397.4,920" fill="#ff00ff" stroke="#b000b0" stroke-width="1.1"/>
<polygon points="414.3,917.5 421.3,930.1 407.3,930.1" fill="#ff00ff" stroke="#b000b0" stroke-width="1.1"/>
<polygon points="412.8,962.8 419.8,974.7 405.8,974.7" fill="#ff00ff" stroke="#b000b0" stroke-width="1.1"/>
<polygon points="474.1,913.3 481.1,926 467.1,926" fill="#ff00ff" stroke="#b000b0" stroke-width="1.1"/>
<polygon points="476.6,950.2 483.6,962.6 469.6,962.6" fill="#ff00ff" stroke="#b000b0" stroke-width="1.1"/>
<polygon points="487.2,951.5 494.2,963.9 480.2,963.9" fill="#ff00ff" stroke="#b000b0" stroke-width="1.1"/>
<polygon points="619.4,949.6 626.4,962.6 612.4,962.6" fill="#ff00ff" stroke="#b000b0" stroke-width="1.1"/>
<polygon points="710.6,935 717.6,947.9 703.6,947.9" fill="#ff00ff" stroke="#b000b0" stroke-width="1.1"/>
<polygon points="737.4,961.1 744.4,973.8 730.4,973.8" fill="#ff00ff" stroke="#b000b0" stroke-width="1.1"/>
<polygon points="741,967.7 748,980.4 734,980.4" fill="#ff00ff" stroke="#b000b0" stroke-width="1.1"/>
<polygon points="725.3,986.4 732.3,998.3 718.3,998.3" fill="#ff00ff" stroke="#b000b0" stroke-width="1.1"/>
<polygon points="334,1030 341,1043.3 327,1043.3" fill="#ff00ff" stroke="#b000b0" stroke-width="1.1"/>
<polygon points="301,1046.4 308,1059.6 294,1059.6" fill="#ff00ff" stroke="#b000b0" stroke-width="1.1"/>
<polygon points="434.4,1049.4 441.4,1062.4 427.4,1062.4" fill="#ff00ff" stroke="#b000b0" stroke-width="1.1"/>
<polygon points="300,1117 307,1130.4 293,1130.4" fill="#ff00ff" stroke="#b000b0" stroke-width="1.1"/>
<g stroke="#000" stroke-width="2.4" fill="none">
<line x1="636" y1="740" x2="658.4" y2="852"/>
<line x1="636" y1="740" x2="709.8" y2="917"/>
<line x1="735" y1="922" x2="826" y2="923.6"/>
<line x1="739.5" y1="975" x2="826" y2="923.6"/>
</g>
<circle cx="239.8" cy="765" r="8.1" fill="#008000" stroke="#004a00" stroke-width="1.2"/>
<circle cx="239.8" cy="765" r="7.35" fill="#808080" stroke="#000" stroke-width="1.5"/>
<circle cx="224.7" cy="813.3" r="8.1" fill="#008000" stroke="#004a00" stroke-width="1.2"/>
<circle cx="224.7" cy="813.3" r="7.35" fill="#808080" stroke="#000" stroke-width="1.5"/>
<circle cx="658.7" cy="859.3" r="8.1" fill="#008000" stroke="#004a00" stroke-width="1.2"/>
<circle cx="658.7" cy="859.3" r="7.35" fill="#808080" stroke="#000" stroke-width="1.5"/>
<circle cx="733.4" cy="867" r="8.1" fill="#008000" stroke="#004a00" stroke-width="1.2"/>
<circle cx="733.4" cy="867" r="7.35" fill="#808080" stroke="#000" stroke-width="1.5"/>
<circle cx="709.9" cy="887.9" r="8.1" fill="#008000" stroke="#004a00" stroke-width="1.2"/>
<circle cx="709.9" cy="887.9" r="7.35" fill="#808080" stroke="#000" stroke-width="1.5"/>
<circle cx="728.4" cy="921.5" r="8.1" fill="#008000" stroke="#004a00" stroke-width="1.2"/>
<circle cx="728.4" cy="921.5" r="7.35" fill="#808080" stroke="#000" stroke-width="1.5"/>
<circle cx="746" cy="1072.5" r="8.1" fill="#008000" stroke="#004a00" stroke-width="1.2"/>
<circle cx="746" cy="1072.5" r="7.35" fill="#808080" stroke="#000" stroke-width="1.5"/>
<rect x="260.9" y="899" width="13.4" height="13.4" fill="#808080" stroke="#111" stroke-width="1.4"/>
<rect x="282.3" y="959.4" width="13.4" height="13.4" fill="#808080" stroke="#111" stroke-width="1.4"/>
<rect x="706.1" y="916.6" width="13.4" height="13.4" fill="#808080" stroke="#111" stroke-width="1.4"/>
<rect x="725.9" y="972" width="13.4" height="13.4" fill="#808080" stroke="#111" stroke-width="1.4"/>
<text id="HC" x="198.5" y="755.2" font-size="26" letter-spacing="1.50" fill="#000" stroke="#000" stroke-width="0.55">HC</text>
<text id="TC" x="170.5" y="815.5" font-size="26" letter-spacing="-0.00" fill="#000" stroke="#000" stroke-width="0.55">TC</text>
<text id="LO" x="222" y="910.4" font-size="26" letter-spacing="0.00" fill="#000" stroke="#000" stroke-width="0.55">LO</text>
<text id="DS" x="239.5" y="961.7" font-size="26" letter-spacing="1.00" fill="#000" stroke="#000" stroke-width="0.55">DS</text>
<text id="Tryp" x="606" y="731" font-size="26" letter-spacing="0.24" fill="#000" stroke="#000" stroke-width="0.55">Tryptophan</text>
<text id="Lys" x="748.5" y="856" font-size="26" letter-spacing="0.60" fill="#000" stroke="#000" stroke-width="0.55">Lysine</text>
<text id="Val" x="743.5" y="900" font-size="26" letter-spacing="0.50" fill="#000" stroke="#000" stroke-width="0.55">Valine</text>
<text id="Phe" x="833" y="936.5" font-size="26" letter-spacing="0.18" fill="#000" stroke="#000" stroke-width="0.55">Phenylalanine</text>
<text id="Hyd" x="761" y="1072.2" font-size="26" letter-spacing="0.05" fill="#000" stroke="#000" stroke-width="0.55">Hydroxylamine</text>
<text id="GC" x="912.5" y="652" font-size="26" letter-spacing="0.00" fill="#000" stroke="#000" stroke-width="0.55">GC</text>
<text id="LCneg" x="912" y="686.9" font-size="26" letter-spacing="-0.10" fill="#000" stroke="#000" stroke-width="0.55">LC-neg</text>
<text id="LCpos" x="912" y="721.9" font-size="26" letter-spacing="-0.10" fill="#000" stroke="#000" stroke-width="0.55">LC-pos</text>
<text id="Soil" x="831.5" y="46.3" font-size="28.5" letter-spacing="0.00" fill="#000" stroke="#000" stroke-width="0.55">Soil</text>
<text id="Hydro" x="832" y="81.4" font-size="28.5" letter-spacing="0.10" fill="#000" stroke="#000" stroke-width="0.55">Hydroponics</text>
<circle cx="895.5" cy="642.8" r="8.3" fill="#008000" stroke="#004a00" stroke-width="1.2"/>
<rect x="888.6" y="669.8" width="13.8" height="13.8" fill="#00ccff" stroke="#0a87a8" stroke-width="1.2"/>
<polygon points="895.6,703 903.2,717 888,717" fill="#ff00ff" stroke="#b000b0" stroke-width="1.1"/>
<rect x="38.63" y="466.63" width="5.56" height="4.59" fill="#fff"/>
<rect x="46.81" y="466.63" width="5.32" height="4.59" fill="#fff"/>
<rect x="38.63" y="401.63" width="5.56" height="4.59" fill="#fff"/>
<rect x="46.81" y="401.63" width="5.32" height="4.59" fill="#fff"/>
<rect x="38.63" y="141.63" width="5.56" height="4.59" fill="#fff"/>
<rect x="46.81" y="141.63" width="5.32" height="4.59" fill="#fff"/>
<rect x="38.63" y="76.63" width="5.56" height="4.59" fill="#fff"/>
<rect x="46.81" y="76.63" width="5.32" height="4.59" fill="#fff"/>
<rect x="249.45" y="559.03" width="5.56" height="4.59" fill="#fff"/>
<rect x="257.63" y="559.03" width="5.32" height="4.59" fill="#fff"/>
<rect x="340.65" y="559.03" width="5.56" height="4.59" fill="#fff"/>
<rect x="348.83" y="559.03" width="5.32" height="4.59" fill="#fff"/>
<rect x="700.96" y="559.03" width="5.56" height="4.59" fill="#fff"/>
<rect x="709.14" y="559.03" width="5.32" height="4.59" fill="#fff"/>
<rect x="792.16" y="559.03" width="5.56" height="4.59" fill="#fff"/>
<rect x="800.34" y="559.03" width="5.32" height="4.59" fill="#fff"/>
<rect x="542.81" y="593.64" width="5.36" height="4.42" fill="#fff"/>
<rect x="550.69" y="593.64" width="5.12" height="4.42" fill="#fff"/>
<rect transform="translate(22.6,264.35) rotate(-90)" x="41.72" y="-2.86" width="5.36" height="4.42" fill="#fff"/>
<rect transform="translate(22.6,264.35) rotate(-90)" x="49.60" y="-2.86" width="5.12" height="4.42" fill="#fff"/>
<rect transform="translate(22.6,264.35) rotate(-90)" x="54.25" y="-2.86" width="5.36" height="4.42" fill="#fff"/>
<rect transform="translate(22.6,264.35) rotate(-90)" x="62.13" y="-2.86" width="5.12" height="4.42" fill="#fff"/>
<rect x="73.35" y="748.13" width="5.56" height="4.59" fill="#fff"/>
<rect x="81.53" y="748.13" width="5.32" height="4.59" fill="#fff"/>
<rect x="74.55" y="1163.63" width="5.56" height="4.59" fill="#fff"/>
<rect x="82.73" y="1163.63" width="5.32" height="4.59" fill="#fff"/>
<rect x="100.61" y="1192.03" width="5.56" height="4.59" fill="#fff"/>
<rect x="108.79" y="1192.03" width="5.32" height="4.59" fill="#fff"/>
<rect x="236.21" y="1192.03" width="5.56" height="4.59" fill="#fff"/>
<rect x="244.40" y="1192.03" width="5.32" height="4.59" fill="#fff"/>
<rect x="744.32" y="1192.03" width="5.56" height="4.59" fill="#fff"/>
<rect x="752.50" y="1192.03" width="5.32" height="4.59" fill="#fff"/>
<rect x="493.66" y="1226.14" width="5.36" height="4.42" fill="#fff"/>
<rect x="501.54" y="1226.14" width="5.12" height="4.42" fill="#fff"/>
<rect transform="translate(22.6,896.35) rotate(-90)" x="41.72" y="-2.86" width="5.36" height="4.42" fill="#fff"/>
<rect transform="translate(22.6,896.35) rotate(-90)" x="49.60" y="-2.86" width="5.12" height="4.42" fill="#fff"/>
<rect transform="translate(22.6,896.35) rotate(-90)" x="54.25" y="-2.86" width="5.36" height="4.42" fill="#fff"/>
<rect transform="translate(22.6,896.35) rotate(-90)" x="62.13" y="-2.86" width="5.12" height="4.42" fill="#fff"/>
</svg></body></html>
